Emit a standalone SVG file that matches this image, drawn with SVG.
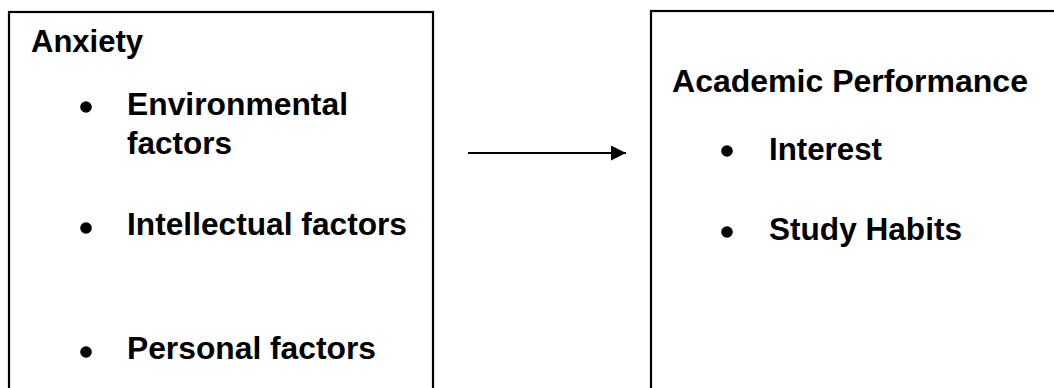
<svg xmlns="http://www.w3.org/2000/svg" width="1054" height="388" viewBox="0 0 1054 388">
<style>
.box{fill:#fff;stroke:#000;stroke-width:2.2}
.t{font-family:"Liberation Sans",Arial,sans-serif;font-weight:bold;font-size:31.5px;fill:#000}
.b{fill:#000}
.c{stroke:#000;stroke-width:2;fill:none}
</style>
<defs>
<marker id="ah" markerWidth="15" markerHeight="15" refX="15" refY="7.5" orient="auto" markerUnits="userSpaceOnUse">
<path d="M0,0 L15,7.5 L0,15 Z" fill="#000"/>
</marker>
</defs>
<rect width="1054" height="388" fill="#fff"/>
<g id="anxiety">
<rect class="box" x="9" y="12" width="424" height="400"/>
<text class="t" x="31" y="52" textLength="112" lengthAdjust="spacingAndGlyphs">Anxiety</text>
<circle class="b" cx="86" cy="107" r="5.8"/>
<text class="t" x="127" y="115" textLength="221" lengthAdjust="spacingAndGlyphs">Environmental</text>
<text class="t" x="127" y="154" textLength="105" lengthAdjust="spacingAndGlyphs">factors</text>
<circle class="b" cx="86" cy="228" r="5.8"/>
<text class="t" x="127" y="235" textLength="280" lengthAdjust="spacingAndGlyphs">Intellectual factors</text>
<circle class="b" cx="86" cy="352" r="5.8"/>
<text class="t" x="127" y="359" textLength="249" lengthAdjust="spacingAndGlyphs">Personal factors</text>
</g>
<g id="academic">
<rect class="box" x="651" y="11" width="420" height="400"/>
<text class="t" x="672" y="92" textLength="356" lengthAdjust="spacingAndGlyphs">Academic Performance</text>
<circle class="b" cx="727" cy="151" r="5.8"/>
<text class="t" x="769" y="160" textLength="113" lengthAdjust="spacingAndGlyphs">Interest</text>
<circle class="b" cx="727" cy="232" r="5.8"/>
<text class="t" x="769" y="240" textLength="193" lengthAdjust="spacingAndGlyphs">Study Habits</text>
</g>
<g id="connectors">
<line class="c" x1="468" y1="153" x2="626" y2="153" marker-end="url(#ah)"/>
</g>
</svg>
